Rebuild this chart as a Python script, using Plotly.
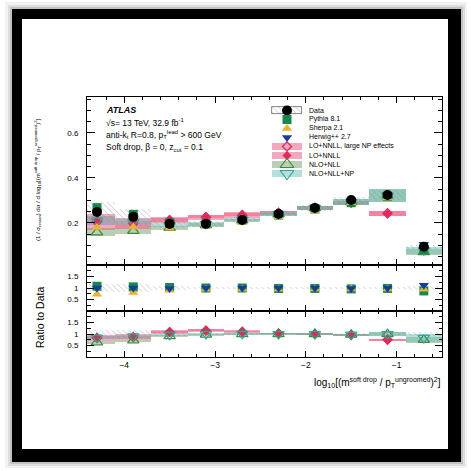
import numpy as np
import plotly.graph_objects as go

# ---------------- data ----------------
bin_lo = [-4.5, -4.1, -3.7, -3.3, -2.9, -2.5, -2.1, -1.7, -1.3, -0.9]
bin_hi = [-4.1, -3.7, -3.3, -2.9, -2.5, -2.1, -1.7, -1.3, -0.9, -0.5]

data_val = [0.249, 0.227, 0.196, 0.196, 0.213, 0.240, 0.267, 0.302, 0.324, 0.094]
data_err = [0.045, 0.035, 0.020, 0.012, 0.010, 0.010, 0.012, 0.012, 0.020, 0.010]

pythia = [0.268, 0.238, 0.200, 0.196, 0.213, 0.235, 0.262, 0.290, 0.318, 0.082]
sherpa = [0.180, 0.182, 0.176, 0.186, 0.202, 0.228, 0.254, 0.290, 0.311, 0.089]
herwig = [0.249, 0.227, 0.192, 0.196, 0.213, 0.240, 0.267, 0.296, 0.324, 0.105]

lonnll_np = [0.205, 0.198, 0.212, 0.225, 0.234, 0.245, 0.267, 0.290, 0.243, None]
lonnll_np_err = [0.035, 0.025, 0.012, 0.010, 0.010, 0.008, 0.008, 0.008, 0.011, None]
lonnll = [0.210, 0.193, 0.216, 0.229, 0.239, 0.247, 0.267, 0.290, 0.240, None]
lonnll_err = [0.020, 0.015, 0.010, 0.008, 0.008, 0.008, 0.008, 0.008, 0.011, None]
nlonll = [0.158, 0.165, 0.178, 0.190, 0.211, 0.238, 0.266, 0.293, 0.322, 0.070]
nlonll_err = [0.018, 0.014, 0.010, 0.008, 0.008, 0.008, 0.010, 0.012, 0.028, 0.012]
nlonllnp = [0.210, 0.204, 0.190, 0.196, 0.215, 0.240, 0.267, 0.294, 0.322, 0.078]
nlonllnp_err = [0.020, 0.015, 0.010, 0.008, 0.008, 0.008, 0.010, 0.012, 0.028, 0.016]

legend_labels = ["Data", "Pythia 8.1", "Sherpa 2.1", "Herwig++ 2.7",
                 "LO+NNLL, large NP effects", "LO+NNLL", "NLO+NLL", "NLO+NLL+NP"]

main_yticks = [0.2, 0.4, 0.6]
ratio_yticks = [0.5, 1.0, 1.5]
ratio_yticktext = ["0.5", "1", "1.5"]

# ---------------- helpers ----------------
W = H = 471
def px(x):
    return x / W
def py(y):
    return 1 - y / H

def arr(v):
    return np.array([np.nan if a is None else a for a in v], dtype=float)

def tolist(a):
    return [None if np.isnan(v) else float(v) for v in a]

lo = np.array(bin_lo); hi = np.array(bin_hi)
centers = (lo + hi) / 2
widths = hi - lo
D = arr(data_val); DE = arr(data_err)

FONT = "Arial, Liberation Sans, Helvetica, sans-serif"

C_PINK_BAND = "rgba(238,105,142,0.58)"
C_NLO_BAND = "rgba(120,155,105,0.50)"
C_NP_BAND = "rgba(110,195,190,0.52)"
C_PYTHIA = "#16884e"
C_SHERPA = "#e8b430"
C_HERWIG = "#183c9c"
C_LO = "#e2285c"
C_NLO = "#3c8c3c"
C_NP = "#33a39c"

HATCH = dict(shape="\\", fgcolor="#8a8a8a", bgcolor="rgba(0,0,0,0)", size=4, solidity=0.22)

fig = go.Figure()

models = [
    (lonnll_np, lonnll_np_err, C_PINK_BAND, dict(symbol="diamond-open", color=C_LO, size=7, line=dict(width=1.3, color=C_LO))),
    (lonnll, lonnll_err, C_PINK_BAND, dict(symbol="diamond", color=C_LO, size=7)),
    (nlonll, nlonll_err, C_NLO_BAND, dict(symbol="triangle-up-open", color=C_NLO, size=10, line=dict(width=1.2, color=C_NLO))),
    (nlonllnp, nlonllnp_err, C_NP_BAND, dict(symbol="triangle-down-open", color=C_NP, size=10, line=dict(width=1.2, color=C_NP))),
]
mcs = [
    (pythia, dict(symbol="square", color=C_PYTHIA, size=9)),
    (sherpa, dict(symbol="triangle-up", color=C_SHERPA, size=9)),
    (herwig, dict(symbol="triangle-down", color=C_HERWIG, size=9)),
]

def band(xa, ya, base, height, color, pattern=None):
    mk = dict(color=color, line=dict(width=0))
    if pattern is not None:
        mk["pattern"] = pattern
    fig.add_trace(go.Bar(x=centers, width=widths, base=tolist(base), y=tolist(height),
                         marker=mk, xaxis=xa, yaxis=ya, showlegend=False, hoverinfo="skip"))

# ---- bands: main panel & ratio2 ----
for vals, errs, bcol, mk in models:
    V = arr(vals); E = arr(errs)
    band("x", "y", V - E, 2 * E, bcol)
    band("x3", "y3", (V - E) / D, 2 * E / D, bcol)

# data hatched band in all panels
band("x", "y", D - DE, 2 * DE, "rgba(0,0,0,0)", HATCH)
band("x2", "y2", 1 - DE / D, 2 * DE / D, "rgba(0,0,0,0)", HATCH)
band("x3", "y3", 1 - DE / D, 2 * DE / D, "rgba(0,0,0,0)", HATCH)

# ---- theory markers ----
for vals, errs, bcol, mk in models:
    V = arr(vals)
    fig.add_trace(go.Scatter(x=centers, y=tolist(V), mode="markers", marker=mk,
                             xaxis="x", yaxis="y", showlegend=False))
    fig.add_trace(go.Scatter(x=centers, y=tolist(V / D), mode="markers", marker=mk,
                             xaxis="x3", yaxis="y3", showlegend=False))

# ---- MC markers ----
for vals, mk in mcs:
    V = arr(vals)
    fig.add_trace(go.Scatter(x=centers, y=tolist(V), mode="markers", marker=mk,
                             xaxis="x", yaxis="y", showlegend=False))
    fig.add_trace(go.Scatter(x=centers, y=tolist(V / D), mode="markers", marker=mk,
                             xaxis="x2", yaxis="y2", showlegend=False))

# ---- data markers ----
fig.add_trace(go.Scatter(x=centers, y=tolist(D), mode="markers",
                         marker=dict(symbol="circle", color="black", size=10),
                         xaxis="x", yaxis="y", showlegend=False))

# ---------------- hand-made legend (x4/y4 in pixel units) ----------------
leg_y0, leg_dy = 110.5, 9.0
leg_box_x, leg_box_w, leg_box_h = 287, 30, 6.5
leg_text_x = 307
leg_boxes = [
    ("rgba(0,0,0,0)", HATCH, "#666666"),
    None, None, None,
    (C_PINK_BAND, None, None),
    (C_PINK_BAND, None, None),
    (C_NLO_BAND, None, None),
    (C_NP_BAND, None, None),
]
leg_markers = [
    dict(symbol="circle", color="black", size=10),
    mcs[0][1], mcs[1][1], mcs[2][1],
    models[0][3], models[1][3],
    dict(models[2][3], size=12), dict(models[3][3], size=12),
]
for i, lab in enumerate(legend_labels):
    yy = leg_y0 + i * leg_dy
    bx = leg_boxes[i]
    if bx is not None:
        col, pat, lc = bx
        mk = dict(color=col, line=dict(width=0.8 if lc else 0, color=lc or col))
        if pat is not None:
            mk["pattern"] = pat
        fig.add_trace(go.Bar(x=[leg_box_x], width=[leg_box_w], base=[yy - leg_box_h / 2], y=[leg_box_h],
                             marker=mk, xaxis="x4", yaxis="y4", showlegend=False, hoverinfo="skip"))
    fig.add_trace(go.Scatter(x=[leg_box_x], y=[yy], mode="markers", marker=leg_markers[i],
                             xaxis="x4", yaxis="y4", showlegend=False, cliponaxis=False))
    fig.add_annotation(x=leg_text_x, y=yy, xref="x4", yref="y4", text=lab, showarrow=False,
                       xanchor="left", yanchor="middle", font=dict(size=7, family=FONT, color="black"))

# ---------------- axes ----------------
XR = [-4.41, -0.5]
xcommon = dict(range=XR, domain=[px(87), px(442)], ticks="inside", ticklen=6, tickwidth=1,
               tickcolor="black", mirror="allticks", showline=True, linecolor="black", linewidth=1,
               showgrid=False, zeroline=False, dtick=1, tick0=0,
               minor=dict(ticks="inside", ticklen=3, dtick=0.2, tick0=0, tickcolor="black", showgrid=False),
               tickfont=dict(size=8.5, family=FONT, color="black"))
ycommon = dict(ticks="inside", tickcolor="black", mirror="allticks", showline=True, linecolor="black",
               linewidth=1, showgrid=False, zeroline=False,
               tickfont=dict(size=8, family=FONT, color="black"), ticklabelstandoff=6)

fig.update_layout(
    xaxis=dict(xcommon, anchor="y", showticklabels=False),
    xaxis2=dict(xcommon, anchor="y2", showticklabels=False, matches="x"),
    xaxis3=dict(xcommon, anchor="y3", showticklabels=True, matches="x"),
    yaxis=dict(ycommon, anchor="x", domain=[py(265), py(97)], range=[0.013, 0.76],
               tickvals=main_yticks, ticklen=8,
               minor=dict(ticks="inside", ticklen=4, dtick=0.05, tick0=0, tickcolor="black", showgrid=False)),
    yaxis2=dict(ycommon, anchor="x2", domain=[py(311), py(265)], range=[0, 2],
                tickvals=ratio_yticks, ticktext=ratio_yticktext, ticklen=7,
                minor=dict(ticks="inside", ticklen=3.5, dtick=0.25, tick0=0, tickcolor="black", showgrid=False)),
    yaxis3=dict(ycommon, anchor="x3", domain=[py(357), py(311)], range=[0, 2],
                tickvals=ratio_yticks, ticktext=ratio_yticktext, ticklen=7,
                minor=dict(ticks="inside", ticklen=3.5, dtick=0.25, tick0=0, tickcolor="black", showgrid=False)),
    xaxis4=dict(domain=[px(260), px(440)], range=[260, 440], visible=False, anchor="y4"),
    yaxis4=dict(domain=[py(190), py(100)], range=[190, 100], visible=False, anchor="x4"),
)

fig.update_layout(
    width=W, height=H, margin=dict(l=0, r=0, t=0, b=0),
    paper_bgcolor="white", plot_bgcolor="rgba(0,0,0,0)",
    barmode="overlay", bargap=0, showlegend=False,
    font=dict(family=FONT, color="black"),
)

# ---------------- texts ----------------
def ann(x, y, text, size, **kw):
    fig.add_annotation(x=px(x), y=py(y), xref="paper", yref="paper", text=text, showarrow=False,
                       font=dict(size=size, family=FONT, color="black"), **kw)

ann(104, 110, "<b><i>ATLAS</i></b>", 9, xanchor="left", yanchor="middle")
ann(104, 122.5, "√s= 13 TeV, 32.9 fb<sup>-1</sup>", 8.5, xanchor="left", yanchor="middle")
ann(104, 135, "anti-k<sub>t</sub> R=0.8, p<sub>T</sub><sup>lead</sup> &gt; 600 GeV", 8.5, xanchor="left", yanchor="middle")
ann(104, 148, "Soft drop, β = 0, z<sub>cut</sub> = 0.1", 8.5, xanchor="left", yanchor="middle")

ann(37, 180, "(1 / σ<sub>resum</sub>) dσ / d log<sub>10</sub>[(m<sup>soft drop</sup> / p<sub>T</sub><sup>ungroomed</sup>)<sup>2</sup>]",
    6, textangle=-90, xanchor="center", yanchor="middle")
ann(40, 318, "Ratio to Data", 10.5, textangle=-90, xanchor="center", yanchor="middle")
ann(443, 382, "log<sub>10</sub>[(m<sup>soft drop</sup> / p<sub>T</sub><sup>ungroomed</sup>)<sup>2</sup>]",
    10, xanchor="right", yanchor="middle")

# ---------------- frame ----------------
def rect(x0, y0, x1, y1, color, layer="above"):
    fig.add_shape(type="rect", xref="paper", yref="paper", x0=px(x0), x1=px(x1), y0=py(y1), y1=py(y0),
                  fillcolor=color, line=dict(width=0), layer=layer)

rect(5, 2, 467, 468, "rgba(0,0,0,0.05)", "below")
rect(8, 5, 465, 466, "rgba(0,0,0,0.08)", "below")
rect(10, 7, 463, 464, "rgba(0,0,0,0.12)", "below")
rect(22, 19, 448, 449, "white", "below")
rect(12, 9, 461, 19, "black")
rect(12, 449, 461, 462, "black")
rect(12, 9, 22, 462, "black")
rect(448, 9, 461, 462, "black")

fig.write_html("out.html")
